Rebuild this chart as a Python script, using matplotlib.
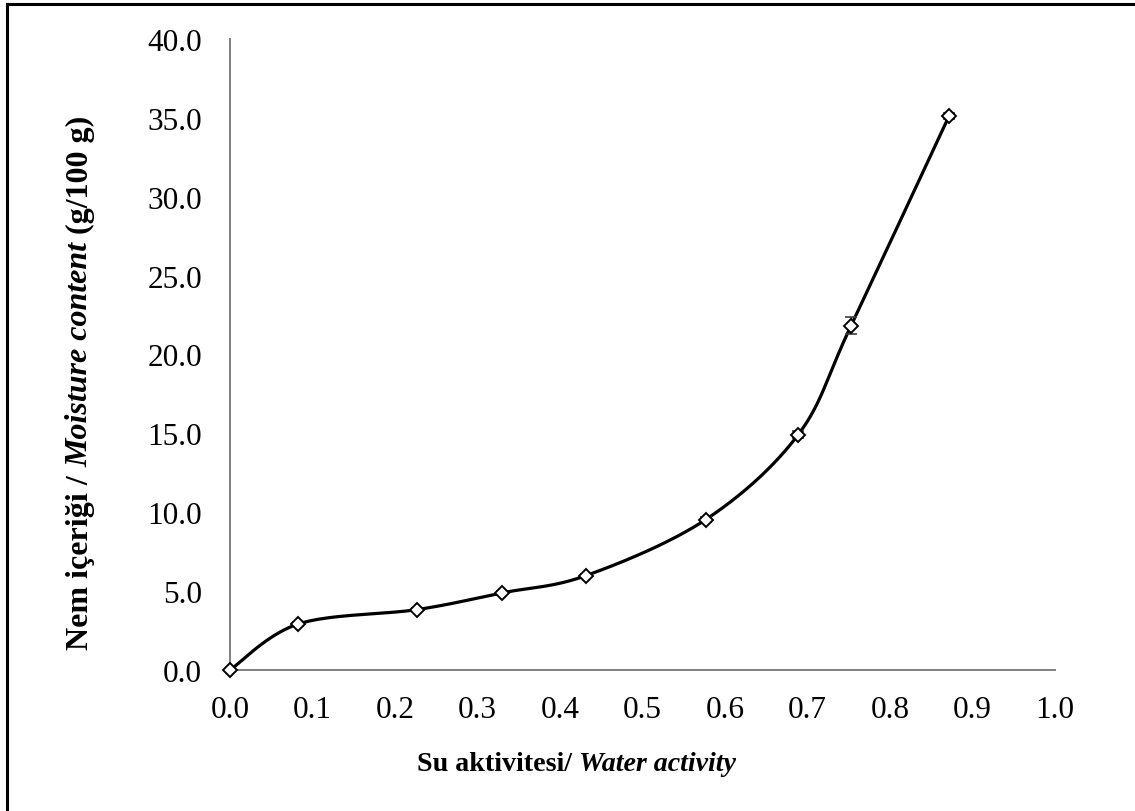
import numpy as np
import matplotlib
matplotlib.use("Agg")
import matplotlib.pyplot as plt
from matplotlib.lines import Line2D

# ---- data ----
water_activity = [0.0, 0.083, 0.227, 0.330, 0.432, 0.577, 0.689, 0.753, 0.872]
moisture = [0.0, 2.92, 3.83, 4.89, 5.99, 9.54, 14.92, 21.82, 35.13]
moisture_err = [0.05, 0.1, 0.1, 0.1, 0.1, 0.15, 0.2, 0.53, 0.2]
x_ticks = [0.0, 0.1, 0.2, 0.3, 0.4, 0.5, 0.6, 0.7, 0.8, 0.9, 1.0]
y_ticks = [0.0, 5.0, 10.0, 15.0, 20.0, 25.0, 30.0, 35.0, 40.0]
x_label_tr = "Su aktivitesi/ "
x_label_en = "Water activity"
y_label_tr = "Nem içeriği / "
y_label_en = "Moisture content"
y_label_unit = " (g/100 g)"

W, H = 1135, 812
plt.rcParams['font.family'] = ['Liberation Serif', 'DejaVu Serif']
fig = plt.figure(figsize=(W / 100, H / 100), dpi=100)
ax = fig.add_axes([230 / W, 1 - 671 / H, (1054.7 - 230) / W, (671 - 40) / H])
ax.set_xlim(0, 1.0)
ax.set_ylim(0, 40)
ax.set_xticks(x_ticks)
ax.set_yticks(y_ticks)
ax.set_xticklabels([f"{v:.1f}" for v in x_ticks])
ax.set_yticklabels([f"{v:.1f}" for v in y_ticks])
ax.tick_params(length=0, labelsize=22.5)
ax.tick_params(axis='x', pad=18)
ax.tick_params(axis='y', pad=20)
for s in ['top', 'right']:
    ax.spines[s].set_visible(False)
for s in ['left', 'bottom']:
    ax.spines[s].set_color('#808080')
    ax.spines[s].set_linewidth(1.4)

# smoothed (Excel-like Bezier) line computed in display space
fig.canvas.draw()
pts = ax.transData.transform(np.column_stack([water_activity, moisture]))
n = len(pts)
curve = []
t = np.linspace(0, 1, 40)
for i in range(n - 1):
    p0 = pts[i - 1] if i > 0 else pts[i]
    p1 = pts[i]
    p2 = pts[i + 1]
    p3 = pts[i + 2] if i + 2 < n else pts[i + 1]
    c1 = p1 + (p2 - p0) / 6.0
    c2 = p2 - (p3 - p1) / 6.0
    seg = ((1 - t) ** 3)[:, None] * p1 + (3 * (1 - t) ** 2 * t)[:, None] * c1 \
        + (3 * (1 - t) * t ** 2)[:, None] * c2 + (t ** 3)[:, None] * p2
    curve.append(seg if i == 0 else seg[1:])
curve = np.vstack(curve)
curve_data = ax.transData.inverted().transform(curve)
ax.plot(curve_data[:, 0], curve_data[:, 1], color='black', lw=2.3, zorder=3,
        solid_capstyle='round')

ax.errorbar(water_activity, moisture, yerr=moisture_err, fmt='none',
            ecolor='#404040', elinewidth=1.2, capsize=4.5, capthick=1.2, zorder=4)
ax.plot(water_activity, moisture, linestyle='none', marker='D', ms=6.9,
        mfc='white', mec='black', mew=1.4, zorder=5, clip_on=False)

# x axis title (bold + bold italic parts)
r = fig.canvas.get_renderer()
t1 = fig.text(0, 0, x_label_tr, fontsize=20.2, fontweight='bold', va='center')
t2 = fig.text(0, 0, x_label_en, fontsize=20.2, fontweight='bold', style='italic', va='center')
w1 = t1.get_window_extent(r).width
w2 = t2.get_window_extent(r).width
x0 = 576 - (w1 + w2) / 2
t1.set_position((x0 / W, 1 - 765 / H))
t2.set_position(((x0 + w1) / W, 1 - 765 / H))

# y axis title
ys = [fig.text(0, 0, y_label_tr, fontsize=23, fontweight='bold', rotation=90),
      fig.text(0, 0, y_label_en, fontsize=23, fontweight='bold', style='italic', rotation=90),
      fig.text(0, 0, y_label_unit, fontsize=23, fontweight='bold', rotation=90)]
hs = [tx.get_window_extent(r).height for tx in ys]
yc = 383
ystart = yc + sum(hs) / 2
off = 0
for tx, h in zip(ys, hs):
    tx.set_rotation_mode('anchor')
    tx.set_ha('left')
    tx.set_va('center')
    tx.set_position((80 / W, 1 - (ystart - off) / H))
    off += h

# partial figure border (top and left)
fig.add_artist(Line2D([7 / W, 1.0], [1 - 5 / H, 1 - 5 / H], color='black', lw=2.2,
                      transform=fig.transFigure))
fig.add_artist(Line2D([7 / W, 7 / W], [1 - 5 / H, 0.0], color='black', lw=2.2,
                      transform=fig.transFigure))

fig.savefig("out.png", dpi=100)
